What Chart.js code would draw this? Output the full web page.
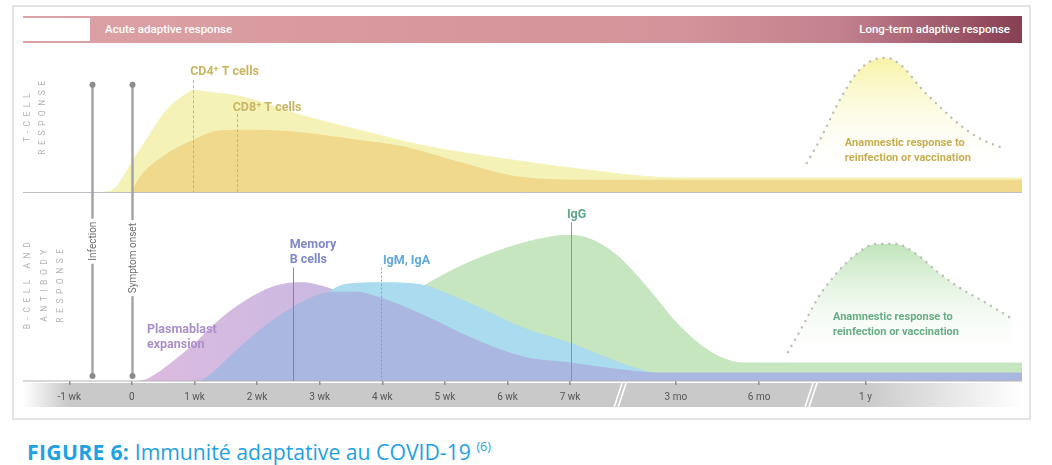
<!DOCTYPE html>
<html><head><meta charset="utf-8">
<script src="https://cdn.jsdelivr.net/npm/chart.js@4.4.1/dist/chart.umd.min.js"></script>
<style>
body{margin:0;background:#fff;}
#wrap{position:relative;width:1052px;height:465px;overflow:hidden;font-family:Roboto,'Open Sans',sans-serif;}
#frame{position:absolute;left:12px;top:5px;width:1015px;height:411px;border:2px solid #e4e4e4;}
#band{position:absolute;left:23px;top:16px;width:999px;height:27px;background:linear-gradient(to right,#dca2a6 0%,#d8979c 40%,#d3939a 66%,#c2808d 82%,#873f53 100%);}
#bandWhite{position:absolute;left:0;top:2px;width:67px;height:23px;background:#fff;}
.bandText{position:absolute;top:0;line-height:27px;color:#fff;font-size:11.5px;font-weight:500;white-space:nowrap;}
#c{position:absolute;left:0;top:0;}
#caption{position:absolute;left:27px;top:441px;font-family:'Open Sans',sans-serif;font-size:21.2px;line-height:21px;color:#1ea2e2;white-space:nowrap;}
#caption b{font-weight:700;letter-spacing:0.3px;}
#caption sup{font-size:12.5px;vertical-align:9px;line-height:0;}
</style></head>
<body>
<div id="wrap">
  <div id="frame"></div>
  <div id="band"><div id="bandWhite"></div>
    <div class="bandText" style="left:82px;">Acute adaptive response</div>
    <div class="bandText" style="right:12px;">Long-term adaptive response</div>
  </div>
  <canvas id="c" width="1052" height="420"></canvas>
  <div id="caption"><b>FIGURE 6:</b> Immunité adaptative au COVID-19 <sup>(6)</sup></div>
</div>
<script>
// ---- axis ----
const tickValues = [-1, 0, 1, 2, 3, 4, 5, 6, 7, 8.69, 10.02, 11.72];
const tickLabels = ['-1 wk', '0', '1 wk', '2 wk', '3 wk', '4 wk', '5 wk', '6 wk', '7 wk', '3 mo', '6 mo', '1 y'];
const axisBreaks = [7.8, 10.85];
const eventLabels = ['Infection', 'Symptom onset'];
const eventX = [-0.64, 0];

// ---- T-cell response ----
const cd4X = [-0.45, -0.35, 0.13, 0.56, 0.88, 0.97, 1.3, 1.73, 2.8, 3.64, 4.6, 6.2, 7.27, 8.32, 9.07, 14.22];
const cd4Y = [0, 0.5, 29, 56, 67, 69, 67.5, 65, 51, 42, 32, 21, 15, 10.2, 9.5, 9.5];
const cd8X = [0, 0.13, 0.53, 0.97, 1.4, 1.88, 2.52, 3.64, 4.36, 5.24, 6.2, 7.3, 14.22];
const cd8Y = [0, 10, 25, 35, 41.5, 42, 41, 35, 30.5, 20, 10, 8, 8];
const tAnamX = [10.78, 10.99, 11.31, 11.58, 11.84, 12.06, 12.32, 12.59, 12.91, 13.27, 13.59, 13.87];
const tAnamY = [19.7, 35.4, 62.6, 81, 89.8, 91.2, 85, 71.4, 57.8, 44.2, 35.4, 30.6];

// ---- B-cell & antibody response ----
const plasmaX = [0.13, 0.29, 0.93, 1.45, 1.88, 2.25, 2.52, 2.75, 2.96, 3.32, 3.96, 4.6, 5.4, 5.88];
const plasmaY = [0, 2, 18, 34, 44, 50, 52, 52.3, 51, 47, 35, 19, 5, 0];
const memoryX = [1.09, 1.2, 1.73, 2.25, 2.8, 3.21, 3.59, 3.96, 4.39, 4.92, 5.24, 6.25, 7.01, 7.83, 8.43, 14.22];
const memoryY = [0, 2, 18, 32, 43, 47, 47, 44, 38.6, 30.7, 25.4, 12.7, 9.5, 5.8, 4.2, 4.2];
const igmX = [1.57, 2.36, 3.0, 3.4, 3.96, 4.6, 5.08, 5.56, 6.25, 7.0, 7.8, 8.43, 9.07];
const igmY = [0, 22, 43, 51, 52, 51, 45.5, 38.6, 28, 20, 9.5, 3, 0];
const iggX = [2.68, 3.64, 4.6, 5.4, 6.25, 6.6, 6.92, 7.24, 7.56, 7.83, 8.1, 8.37, 8.64, 8.91, 9.17, 9.44, 9.79, 14.22];
const iggY = [0, 27, 49, 63, 73, 75.7, 77, 76, 71, 64, 54.5, 44, 33, 24, 17, 12, 9.5, 9.5];
const bAnamX = [10.48, 10.69, 10.96, 11.23, 11.57, 11.88, 12.2, 12.54, 12.86, 13.24, 13.61, 14.06];
const bAnamY = [15.3, 27.5, 43.9, 56, 67, 72.5, 72.5, 67, 58, 49, 42, 33];

const pts = (xs, ys) => xs.map((x, i) => ({x, y: ys[i]}));

function vGrad(axis, peak, c1) {
  return (ctx) => {
    const ch = ctx.chart; const s = ch.scales[axis];
    if (!ch.chartArea || !s) return c1;
    const g = ch.ctx.createLinearGradient(0, s.getPixelForValue(peak), 0, s.getPixelForValue(10));
    g.addColorStop(0, c1); g.addColorStop(1, 'rgba(255,255,255,0)');
    return g;
  };
}
function hGrad(c1, c2, x1, x2) {
  return (ctx) => {
    const ch = ctx.chart; const s = ch.scales.x;
    if (!ch.chartArea || !s) return c1;
    const g = ch.ctx.createLinearGradient(s.getPixelForValue(x1), 0, s.getPixelForValue(x2), 0);
    g.addColorStop(0, c1); g.addColorStop(1, c2);
    return g;
  };
}

const area = (label, data, axis, color, extra) => Object.assign({
  label, data, yAxisID: axis, fill: 'origin', backgroundColor: color,
  borderColor: 'rgba(0,0,0,0)', borderWidth: 0, pointRadius: 0, cubicInterpolationMode: 'monotone'
}, extra || {});

const dotted = {borderColor: '#bdbdb5', borderWidth: 2.4, borderDash: [0.1, 7], borderCapStyle: 'round'};

const notes = [
  {t: ['CD4⁺ T cells'], x: 0.93, y: 81.6, ax: 'yT', c: '#c9b562', f: 'bold 12.5px Roboto'},
  {t: ['CD8⁺ T cells'], x: 1.61, y: 57, ax: 'yT', c: '#c9b562', f: 'bold 12.5px Roboto'},
  {t: ['Anamnestic response to', 'reinfection or vaccination'], x: 11.39, y: 33.3, ax: 'yT', c: '#c8ae52', f: 'bold 11px Roboto', lh: 10.3},
  {t: ['Memory', 'B cells'], x: 2.52, y: 72, ax: 'yB', c: '#7f88c9', f: 'bold 12.5px Roboto', lh: 8},
  {t: ['IgM, IgA'], x: 4.01, y: 63.5, ax: 'yB', c: '#63a9d8', f: 'bold 12.5px Roboto'},
  {t: ['IgG'], x: 6.95, y: 87.8, ax: 'yB', c: '#5fa98a', f: 'bold 12.5px Roboto'},
  {t: ['Plasmablast', 'expansion'], x: 0.24, y: 27, ax: 'yB', c: '#a98fca', f: 'bold 12.5px Roboto', lh: 8},
  {t: ['Anamnestic response to', 'reinfection or vaccination'], x: 11.2, y: 33.9, ax: 'yB', c: '#68ad85', f: 'bold 11px Roboto', lh: 7.9}
];
const markers = [
  {x: 0.97, top: 76, ax: 'yT', c: 'rgba(190,170,90,0.8)', dash: [3, 2]},
  {x: 1.68, top: 53, ax: 'yT', c: 'rgba(190,170,90,0.8)', dash: [3, 2]},
  {x: 2.57, top: 60, ax: 'yB', c: 'rgba(110,125,190,0.9)', dash: []},
  {x: 3.98, top: 60, ax: 'yB', c: 'rgba(100,160,210,0.9)', dash: [2, 2]},
  {x: 7.01, top: 84, ax: 'yB', c: 'rgba(90,165,130,0.9)', dash: []}
];

const decor = {
  id: 'decor',
  beforeDraw(chart) {
    const {ctx, chartArea: a, scales: {x}} = chart;
    const top = a.bottom + 2, h = 24, w = a.right - a.left;
    const g = ctx.createLinearGradient(a.left, 0, a.right, 0);
    g.addColorStop(0, 'rgba(201,201,201,0)');
    g.addColorStop(45 / w, 'rgba(201,201,201,1)');
    g.addColorStop(840 / w, 'rgba(201,201,201,1)');
    g.addColorStop(1, 'rgba(201,201,201,0)');
    ctx.save();
    ctx.fillStyle = g; ctx.fillRect(a.left, top, w, h);
    ctx.strokeStyle = '#ffffff'; ctx.lineWidth = 1.6;
    axisBreaks.forEach(b => {
      const px = x.getPixelForValue(b);
      [-2, 2].forEach(d => { ctx.beginPath(); ctx.moveTo(px + d - 4, top + h); ctx.lineTo(px + d + 4, top); ctx.stroke(); });
    });
    ctx.restore();
  },
  afterDatasetsDraw(chart) {
    const {ctx, chartArea: a, scales: {x, yT, yB}} = chart;
    ctx.save();
    // baselines
    ctx.strokeStyle = 'rgba(160,160,175,0.7)'; ctx.lineWidth = 1;
    const tb = Math.round(yT.getPixelForValue(0)) + 0.5;
    ctx.beginPath(); ctx.moveTo(a.left, tb); ctx.lineTo(a.right, tb); ctx.stroke();
    ctx.strokeStyle = '#b4b0b4'; ctx.lineWidth = 1.2;
    ctx.beginPath(); ctx.moveTo(a.left, a.bottom); ctx.lineTo(a.right, a.bottom); ctx.stroke();
    // marker lines
    markers.forEach(m => {
      const s = m.ax === 'yT' ? yT : yB;
      const px = Math.round(x.getPixelForValue(m.x)) + 0.5;
      ctx.strokeStyle = m.c; ctx.lineWidth = 1; ctx.setLineDash(m.dash);
      ctx.beginPath(); ctx.moveTo(px, s.getPixelForValue(m.top)); ctx.lineTo(px, s.getPixelForValue(0)); ctx.stroke();
    });
    ctx.setLineDash([]);
    // notes
    ctx.textBaseline = 'middle'; ctx.textAlign = 'left';
    notes.forEach(n => {
      const s = n.ax === 'yT' ? yT : yB;
      ctx.font = n.f; ctx.fillStyle = n.c;
      const px = x.getPixelForValue(n.x), py = s.getPixelForValue(n.y);
      const lhPx = n.lh ? (s.getPixelForValue(0) - s.getPixelForValue(n.lh)) : 0;
      n.t.forEach((line, i) => ctx.fillText(line, px, py + i * lhPx));
    });
    // event arrows
    eventX.forEach((ex, i) => {
      const px = Math.round(x.getPixelForValue(ex)) + 0.5;
      const y1 = yT.getPixelForValue(73), y2 = yB.getPixelForValue(2.6);
      ctx.strokeStyle = '#a2a2a2'; ctx.lineWidth = 2.4;
      ctx.beginPath(); ctx.moveTo(px, y1); ctx.lineTo(px, y2); ctx.stroke();
      ctx.fillStyle = '#8c8c8c';
      [y1, y2].forEach(yy => { ctx.beginPath(); ctx.arc(px, yy, 3, 0, Math.PI * 2); ctx.fill(); });
      const cy = yB.getPixelForValue(i === 0 ? 74 : 65);
      ctx.save(); ctx.translate(px, cy); ctx.rotate(-Math.PI / 2);
      ctx.font = '10px Roboto'; const tw = ctx.measureText(eventLabels[i]).width;
      ctx.fillStyle = '#fff'; ctx.fillRect(-tw / 2 - 3, -6, tw + 6, 12);
      ctx.fillStyle = '#6e6e6e'; ctx.textAlign = 'center'; ctx.textBaseline = 'middle';
      ctx.fillText(eventLabels[i], 0, 0.5);
      ctx.restore();
    });
    // panel titles
    const panels = [
      {s: yT, lines: ['T-CELL', 'RESPONSE'], xs: [5, 20]},
      {s: yB, lines: ['B-CELL AND', 'ANTIBODY', 'RESPONSE'], xs: [5, 22, 38]}
    ];
    panels.forEach(p => {
      const cy = (p.s.top + p.s.bottom) / 2 - 1;
      p.lines.forEach((ln, i) => {
        ctx.save(); ctx.translate(a.left + p.xs[i], cy); ctx.rotate(-Math.PI / 2);
        ctx.font = '8.5px Roboto'; ctx.letterSpacing = '4.5px';
        ctx.fillStyle = '#b2b2b2'; ctx.textAlign = 'center'; ctx.textBaseline = 'middle';
        ctx.fillText(ln, 2, 0);
        ctx.restore();
      });
    });
    ctx.restore();
  }
};

new Chart(document.getElementById('c'), {
  type: 'line',
  data: {
    datasets: [
      area('CD8⁺ T cells', pts(cd8X, cd8Y), 'yT', '#f0d98c', {borderColor: '#f0d98c', borderWidth: 1}),
      area('CD4⁺ T cells', pts(cd4X, cd4Y), 'yT', '#f5f2b7', {borderColor: '#f5f2b7', borderWidth: 1}),
      area('T anamnestic', pts(tAnamX, tAnamY), 'yT', vGrad('yT', 88, 'rgba(248,244,172,1)'), dotted),
      area('Memory B cells', pts(memoryX, memoryY), 'yB', '#aab8e1', {borderColor: '#aab8e1', borderWidth: 1}),
      area('IgM, IgA', pts(igmX, igmY), 'yB', '#aadbee', {borderColor: '#aadbee', borderWidth: 1}),
      area('Plasmablast expansion', pts(plasmaX, plasmaY), 'yB', hGrad('#dcbadf', '#c9b9e2', 0.3, 3.2)),
      area('IgG', pts(iggX, iggY), 'yB', '#c6e6c0', {borderColor: '#c6e6c0', borderWidth: 1}),
      area('B anamnestic', pts(bAnamX, bAnamY), 'yB', vGrad('yB', 70, 'rgba(196,230,190,1)'), dotted)
    ]
  },
  options: {
    responsive: false, animation: false, devicePixelRatio: 1,
    layout: {padding: {left: 23, right: 30, top: 45, bottom: 0}},
    plugins: {legend: {display: false}, tooltip: {enabled: false}},
    scales: {
      x: {
        type: 'linear', min: -1.74, max: 14.22,
        afterBuildTicks: s => { s.ticks = tickValues.map(v => ({value: v})); },
        afterFit: s => { s.height = 39; },
        grid: {display: true, drawOnChartArea: false, drawTicks: true, tickLength: 4, color: '#8e8e8e', lineWidth: 1.5},
        border: {display: false},
        ticks: {autoSkip: false, maxRotation: 0, padding: 6, color: '#555', font: {size: 10, family: 'Roboto'},
          callback: (v, i) => tickLabels[i]}
      },
      yB: {type: 'linear', min: 0, max: 100, position: 'left', stack: 'panels', stackWeight: 189,
        ticks: {display: false}, grid: {display: false}, border: {display: false}, afterFit: s => { s.width = 0; }},
      yT: {type: 'linear', min: 0, max: 100, position: 'left', stack: 'panels', stackWeight: 147,
        ticks: {display: false}, grid: {display: false}, border: {display: false}, afterFit: s => { s.width = 0; }}
    }
  },
  plugins: [decor]
});
</script>
</body></html>
